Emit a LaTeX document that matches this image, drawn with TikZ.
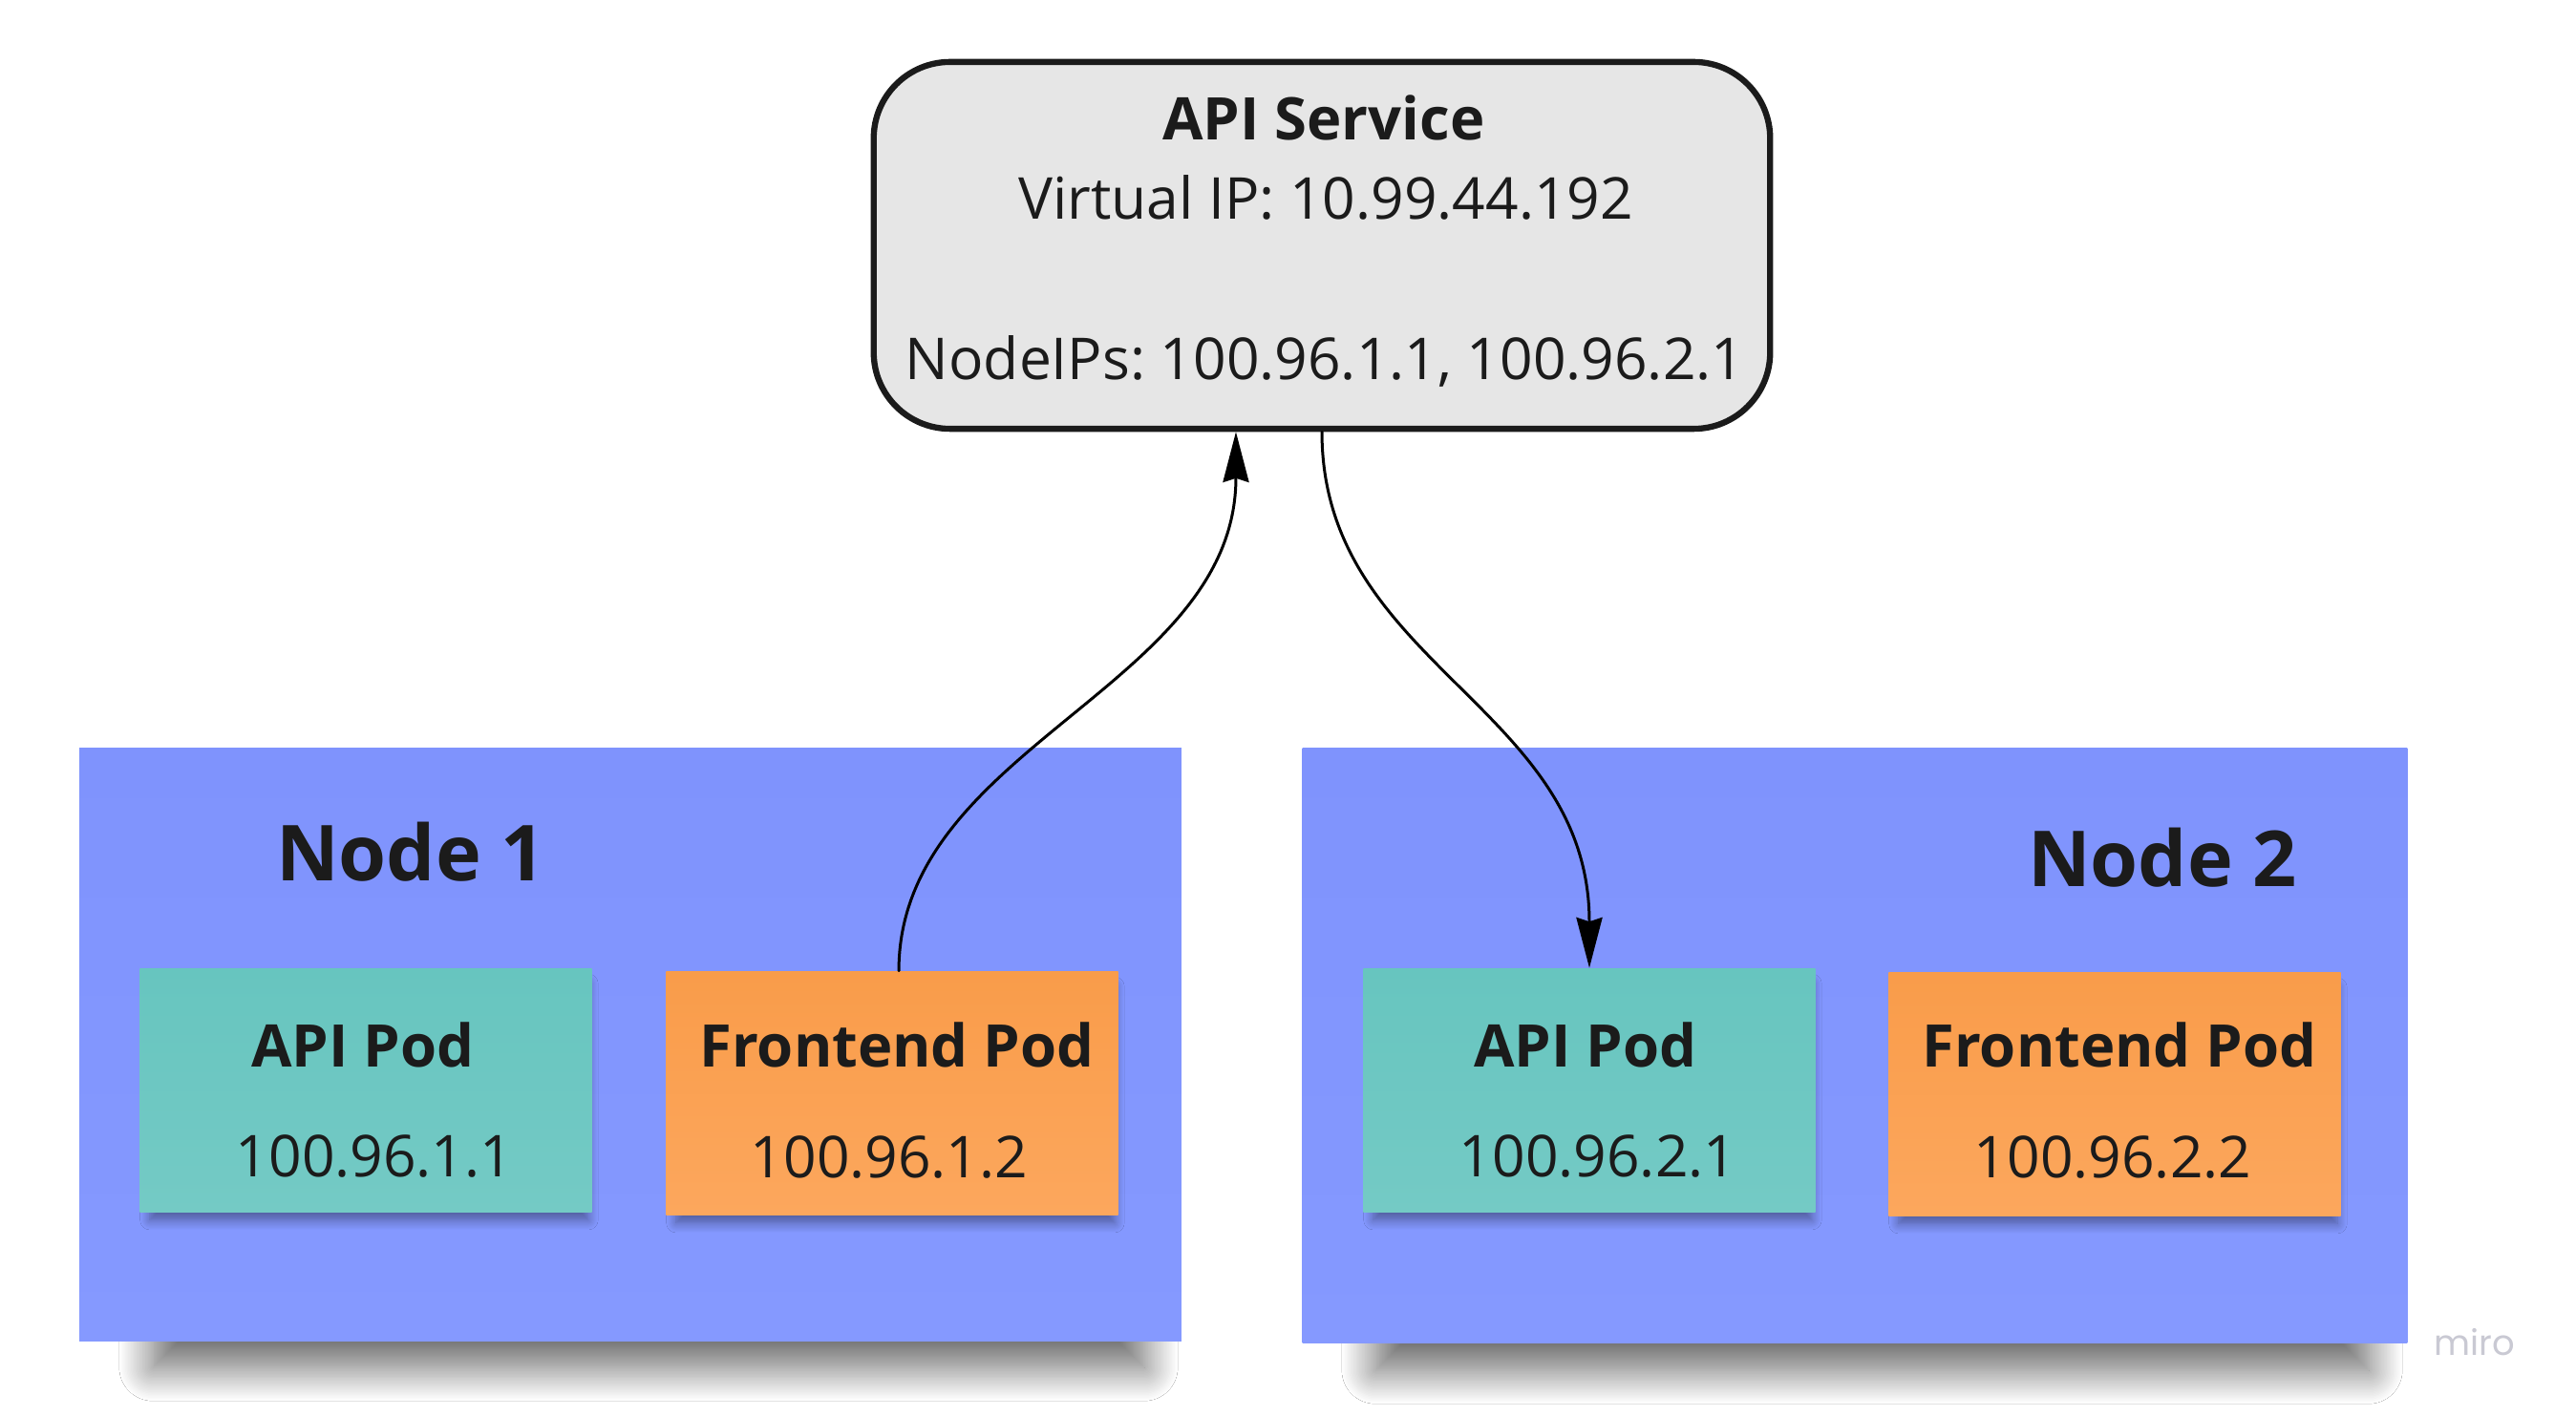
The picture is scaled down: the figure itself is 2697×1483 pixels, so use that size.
\documentclass[tikz,border=0pt]{standalone}
\usepackage{fontspec}
\setmainfont{Open Sans}
\newfontfamily\wmfont{Poppins}
\frenchspacing
\usetikzlibrary{arrows.meta,shadows.blur}

\definecolor{nodeblue}{HTML}{7F93FD}
\definecolor{nodebluelo}{HTML}{8599FF}
\definecolor{podteal}{HTML}{67C5BF}
\definecolor{podteallo}{HTML}{74CAC5}
\definecolor{podorange}{HTML}{F99C4A}
\definecolor{podorangelo}{HTML}{FCA75D}
\definecolor{svcgray}{HTML}{E6E6E6}
\definecolor{inkdark}{HTML}{1B1B1B}
\definecolor{wmgray}{HTML}{C9C9D3}

\begin{document}
\begin{tikzpicture}[x=0.01cm,y=-0.01cm,line cap=round,line join=round,
    txt/.style={text=inkdark,inner sep=0pt,anchor=base,font=\fontsize{17.2}{20}\selectfont},
    txtbold/.style={txt,font=\fontsize{17.5}{20}\selectfont\bfseries},
    hostshadow/.style={blur shadow={shadow xshift=0pt,shadow yshift=0pt,
        shadow opacity=60,shadow blur radius=10pt,shadow blur steps=24}},
    hostbox/.style={rectangle,inner sep=0pt,top color=nodeblue,bottom color=nodebluelo},
    podbox/.style={rectangle,inner sep=0pt,minimum width=4.73cm,minimum height=2.55cm,
      blur shadow={shadow xshift=1pt,shadow yshift=-3.5pt,shadow scale=0.97,
        shadow opacity=40,shadow blur radius=3pt,shadow blur steps=10}},
    flow/.style={draw=black,line width=0.85pt,fill opacity=1,draw opacity=1,
      -{Stealth[length=15pt,width=7.7pt,inset=1.2pt]}}]
  \useasboundingbox (0,0) rectangle (2697,1483);
  \fill[white] (0,0) rectangle (2697,1483);

  % service box on top
  \node[draw=inkdark,line width=1.8pt,fill=svcgray,rounded corners=0.8cm,
    minimum width=9.38cm,minimum height=3.84cm] (api) at (1384,257) {};
  \node[txtbold] (apititle) at (1386,147) {API Service};
  \node[txt] (apivip) at (1388,230) {Virtual IP: 10.99.44.192};
  \node[txt] (apinodeips) at (1387,398) {NodeIPs: 100.96.1.1, 100.96.2.1};

  % the two hosts, soft shadow under the lower edge only
  \begin{scope}
    \path[hostshadow] (160,1362) rectangle (1198,1432);
  \end{scope}
  \begin{scope}
    \path[hostshadow] (1440,1365) rectangle (2480,1435);
  \end{scope}
  \node[hostbox,minimum width=11.53cm,minimum height=6.2cm] (node1) at (660,1094) {};
  \node[hostbox,minimum width=11.56cm,minimum height=6.23cm] (node2) at (1942,1095) {};
  \node[txtbold,font=\fontsize{23}{26}\selectfont\bfseries] (node1lbl) at (430,923) {Node 1};
  \node[txtbold,font=\fontsize{23}{26}\selectfont\bfseries] (node2lbl) at (2264,929) {Node 2};

  % pods
  \node[podbox,top color=podteal,bottom color=podteallo] (apipod1) at (383,1142) {};
  \node[podbox,top color=podorange,bottom color=podorangelo] (fepod1) at (934,1145) {};
  \node[podbox,top color=podteal,bottom color=podteallo] (apipod2) at (1664,1142) {};
  \node[podbox,top color=podorange,bottom color=podorangelo] (fepod2) at (2214,1146) {};

  \node[txtbold] (apipod1t) at (380,1118) {API Pod};
  \node[txt] (apipod1ip) at (392,1232) {100.96.1.1};
  \node[txtbold] (fepod1t) at (939,1118) {Frontend Pod};
  \node[txt] (fepod1ip) at (931,1233) {100.96.1.2};
  \node[txtbold] (apipod2t) at (1660,1118) {API Pod};
  \node[txt] (apipod2ip) at (1673,1232) {100.96.2.1};
  \node[txtbold] (fepod2t) at (2219,1118) {Frontend Pod};
  \node[txt] (fepod2ip) at (2212,1233) {100.96.2.2};

  % traffic through the service
  \draw[flow] ([xshift=2pt]fepod1.north) .. controls +(0,-235) and +(0,268) .. ([xshift=-25.6pt]api.south);
  \draw[flow] (api.south) .. controls +(0,244) and +(0,-275) .. (apipod2.north);

  \node[anchor=base,inner sep=0pt,text=wmgray,font=\wmfont\fontsize{10.5}{12}\selectfont] (miro) at (2591,1419) {miro};
\end{tikzpicture}
\end{document}
